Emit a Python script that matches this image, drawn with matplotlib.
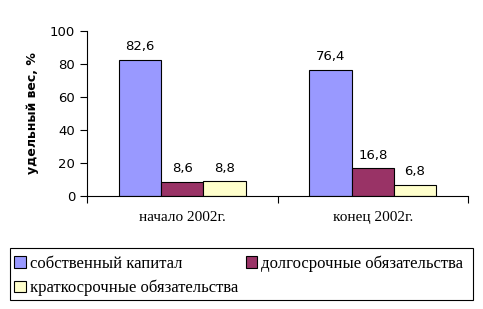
import matplotlib.pyplot as plt
import matplotlib.patches as mpatches
import numpy as np

# данные
groups = ['начало 2002г.', 'конец 2002г.']
series_names = ['собственный капитал', 'долгосрочные обязательства', 'краткосрочные обязательства']
equity = [82.6, 76.4]
long_term = [8.6, 16.8]
short_term = [8.8, 6.8]
colors = ['#9999FF', '#993366', '#FFFFCC']

fig = plt.figure(figsize=(4.83, 3.09), dpi=100)
ax = fig.add_axes([87 / 483, 1 - 196 / 309, 381 / 483, 165 / 309])

x = np.arange(len(groups))
w = 0.222
vals = [equity, long_term, short_term]
handles = []
for i, (v, name, c) in enumerate(zip(vals, series_names, colors)):
    bars = ax.bar(x + (i - 1) * w, v, w, color=c, edgecolor='black', linewidth=0.8, label=name)
    handles.append(bars)
    for b, val in zip(bars, v):
        ax.text(b.get_x() + b.get_width() / 2, val + 4, f'{val:.1f}'.replace('.', ','),
                ha='center', va='bottom', fontsize=9.5)

ax.set_xlim(-0.5, 1.5)
ax.set_ylim(0, 100)
ax.set_yticks([0, 20, 40, 60, 80, 100])
ax.tick_params(axis='y', labelsize=9.5, length=5, width=0.8)
ax.set_xticks([-0.5, 0.5, 1.5])
ax.set_xticklabels([])
ax.tick_params(axis='x', length=5, width=0.8)
ax.set_xticks(x, minor=True)
ax.set_xticklabels(groups, minor=True, fontsize=11, family='Liberation Serif')
ax.tick_params(axis='x', which='minor', length=0, pad=11)
for s in ['top', 'right']:
    ax.spines[s].set_visible(False)
ax.set_ylabel('удельный вес, %', fontsize=9, fontweight='bold', labelpad=8)

# рамка легенды
fig.patches.append(mpatches.Rectangle((10 / 483, 1 - 300 / 309), 463 / 483, 52 / 309,
                                      transform=fig.transFigure, fill=False,
                                      edgecolor='black', linewidth=0.8))
order = [0, 2, 1]
fig.legend([handles[i] for i in order], [series_names[i] for i in order],
           loc='upper left', bbox_to_anchor=(14 / 483, 1 - 255 / 309), ncol=2,
           prop={'family': 'Liberation Serif', 'size': 12},
           frameon=False, handlelength=0.7, handleheight=0.7,
           handletextpad=0.25, borderaxespad=0, borderpad=0, labelspacing=0.5,
           columnspacing=0.45)

plt.savefig('out.png', dpi=100)
